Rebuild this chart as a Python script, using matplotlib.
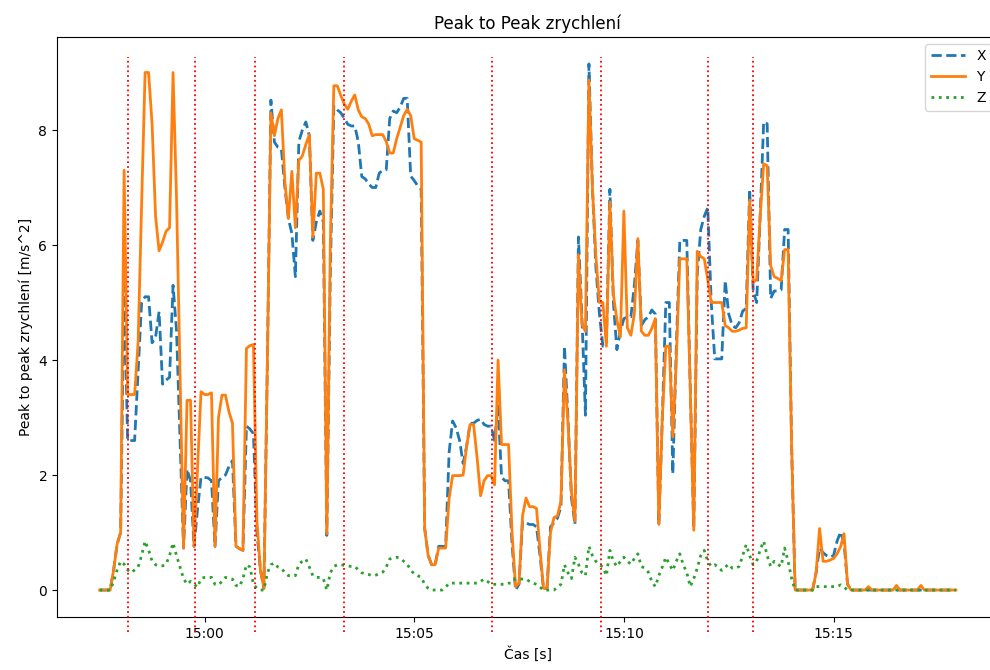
import matplotlib
matplotlib.use("Agg")
import matplotlib.pyplot as plt
import matplotlib.dates as mdates
import pandas as pd

# peak to peak values, one sample every 5 s from 14:57:30
x_vals = [
    0, 0, 0, 0, 0.35, 0.8, 1.0, 5.4, 2.6, 2.6,
    2.6, 3.8, 5.0, 5.1, 5.1, 4.3, 4.4, 4.84, 3.58, 3.65,
    3.7, 5.3, 4.5, 2.6, 0.73, 2.1, 1.9, 0.76, 1.4, 1.96,
    1.96, 1.95, 1.9, 0.76, 1.9, 1.96, 2.0, 2.15, 2.25, 0.76,
    0.72, 0.69, 2.85, 2.8, 2.72, 1.0, 0.35, 0.03, 4.0, 8.52,
    7.79, 7.7, 7.67, 7.0, 6.46, 6.2, 5.45, 7.8, 8.0, 8.14,
    7.9, 6.08, 6.4, 6.59, 6.4, 0.95, 5.5, 8.42, 8.35, 8.3,
    8.2, 8.1, 8.07, 8.07, 7.8, 7.19, 7.15, 7.06, 7.0, 7.0,
    7.25, 7.3, 7.31, 8.2, 8.33, 8.3, 8.4, 8.55, 8.55, 7.2,
    7.12, 7.03, 6.97, 1.07, 0.6, 0.44, 0.44, 0.76, 0.76, 0.76,
    2.4, 2.94, 2.82, 2.6, 2.2, 2.5, 2.9, 2.9, 2.95, 2.97,
    2.88, 2.85, 2.85, 2.6, 3.2, 1.96, 1.9, 1.9, 0.8, 0.0,
    0.1, 1.2, 1.17, 1.14, 1.14, 1.1, 0.6, 0.03, 0.03, 1.1,
    1.17, 1.25, 1.45, 4.24, 3.0, 1.6, 1.14, 6.14, 4.75, 3.04,
    9.15, 7.0, 5.6, 4.8, 4.24, 4.3, 6.97, 5.0, 4.18, 4.5,
    4.72, 4.75, 4.75, 5.3, 6.08, 4.6, 4.7, 4.75, 4.87, 4.8,
    1.14, 3.0, 5.0, 5.0, 2.02, 4.2, 6.08, 6.08, 6.08, 3.5,
    1.07, 5.5, 6.27, 6.5, 6.65, 5.0, 4.02, 4.02, 4.02, 5.38,
    4.8, 4.6, 4.56, 4.65, 4.85, 4.9, 6.97, 5.2, 5.0, 6.5,
    8.14, 8.11, 5.07, 5.2, 5.2, 5.22, 6.27, 6.27, 2.5, 0,
    0, 0, 0, 0, 0, 0.3, 0.73, 0.65, 0.6, 0.57,
    0.6, 0.85, 1.01, 0.82, 0.1, 0, 0, 0, 0, 0,
    0, 0, 0, 0, 0, 0, 0, 0, 0, 0,
    0, 0, 0, 0, 0, 0, 0, 0, 0, 0,
    0, 0, 0, 0, 0, 0,
]

y_vals = [
    0, 0, 0, 0, 0.35, 0.8, 1.0, 7.3, 3.4, 3.4,
    3.4, 4.3, 6.7, 9.0, 9.0, 8.1, 6.5, 5.9, 6.05, 6.24,
    6.3, 9.0, 6.8, 3.8, 0.73, 3.3, 3.3, 0.76, 2.1, 3.45,
    3.4, 3.4, 3.43, 0.76, 3.0, 3.39, 3.39, 3.1, 2.9, 0.76,
    0.72, 0.69, 4.2, 4.25, 4.27, 1.2, 0.35, 0.03, 4.0, 8.3,
    7.9, 8.2, 8.35, 7.1, 6.46, 7.28, 6.3, 7.47, 7.55, 7.75,
    7.92, 6.14, 7.25, 7.25, 6.97, 0.98, 6.0, 8.77, 8.77, 8.6,
    8.45, 8.36, 8.5, 8.61, 8.35, 8.23, 8.2, 8.1, 7.9, 7.92,
    7.92, 7.92, 7.8, 7.6, 7.6, 7.85, 8.05, 8.25, 8.36, 8.25,
    7.85, 7.82, 7.79, 1.07, 0.6, 0.44, 0.44, 0.73, 0.73, 0.73,
    1.6, 1.99, 1.99, 1.99, 2.0, 2.5, 2.88, 2.88, 2.3, 1.64,
    1.9, 1.99, 1.99, 1.83, 4.0, 2.53, 2.53, 2.53, 1.0, 0.06,
    0.12, 1.29, 1.6, 1.45, 1.45, 1.42, 0.7, 0.03, 0.03, 1.0,
    1.26, 1.29, 1.55, 3.83, 2.91, 1.7, 1.2, 5.83, 4.62, 4.5,
    8.87, 7.0, 5.8, 5.0, 5.0, 4.24, 6.75, 5.13, 4.7, 4.4,
    6.59, 4.56, 4.43, 4.8, 6.11, 4.5, 4.43, 4.43, 4.55, 4.72,
    1.14, 3.0, 4.24, 4.24, 2.66, 4.0, 5.76, 5.76, 5.76, 3.5,
    1.04, 5.89, 5.8, 5.76, 5.4, 5.0, 5.0, 5.0, 5.0, 4.6,
    4.56, 4.5, 4.5, 4.52, 4.55, 4.56, 6.78, 5.35, 5.4, 6.5,
    7.41, 7.38, 5.64, 5.45, 5.42, 5.38, 5.92, 5.92, 2.5, 0,
    0, 0, 0, 0, 0, 0.3, 1.07, 0.5, 0.5, 0.52,
    0.55, 0.63, 0.75, 0.98, 0.1, 0, 0, 0, 0, 0,
    0.06, 0, 0, 0, 0, 0, 0, 0, 0.08, 0,
    0, 0, 0, 0, 0, 0.08, 0, 0, 0, 0,
    0, 0, 0, 0, 0, 0,
]

z_vals = [
    0, 0, 0, 0, 0.15, 0.35, 0.5, 0.45, 0.35, 0.3,
    0.35, 0.4, 0.6, 0.85, 0.7, 0.5, 0.44, 0.42, 0.42, 0.45,
    0.6, 0.82, 0.6, 0.4, 0.2, 0.1, 0.15, 0.1, 0.05, 0.2,
    0.22, 0.22, 0.22, 0.1, 0.09, 0.15, 0.22, 0.2, 0.19, 0.08,
    0.06, 0.2, 0.44, 0.4, 0.1, 0.03, 0, 0, 0.3, 0.44,
    0.47, 0.4, 0.38, 0.3, 0.25, 0.25, 0.25, 0.45, 0.5, 0.54,
    0.4, 0.25, 0.22, 0.22, 0.2, 0.0, 0.3, 0.41, 0.44, 0.44,
    0.43, 0.42, 0.41, 0.41, 0.35, 0.3, 0.28, 0.27, 0.25, 0.26,
    0.28, 0.31, 0.4, 0.54, 0.56, 0.57, 0.55, 0.5, 0.45, 0.35,
    0.28, 0.25, 0.22, 0.1, 0.03, 0, 0, 0, 0, 0.05,
    0.12, 0.12, 0.12, 0.12, 0.12, 0.12, 0.12, 0.12, 0.12, 0.15,
    0.19, 0.15, 0.1, 0.1, 0.1, 0.1, 0.1, 0.12, 0.12, 0.2,
    0.2, 0.19, 0.19, 0.15, 0.12, 0.1, 0.05, 0, 0, 0,
    0, 0.05, 0.1, 0.44, 0.3, 0.2, 0.57, 0.45, 0.3, 0.25,
    0.76, 0.6, 0.5, 0.44, 0.4, 0.25, 0.69, 0.5, 0.41, 0.5,
    0.57, 0.5, 0.45, 0.55, 0.63, 0.41, 0.38, 0.31, 0.15, 0.06,
    0.25, 0.4, 0.57, 0.45, 0.34, 0.5, 0.63, 0.44, 0.3, 0.06,
    0.2, 0.38, 0.6, 0.69, 0.5, 0.41, 0.44, 0.4, 0.34, 0.4,
    0.45, 0.38, 0.38, 0.41, 0.6, 0.79, 0.6, 0.44, 0.5, 0.7,
    0.85, 0.6, 0.41, 0.5, 0.45, 0.41, 0.73, 0.5, 0.2, 0,
    0, 0, 0, 0, 0, 0.06, 0.06, 0.06, 0.06, 0.06,
    0.06, 0.06, 0.09, 0.05, 0, 0, 0, 0, 0, 0,
    0, 0, 0, 0, 0, 0, 0, 0, 0, 0,
    0, 0, 0, 0, 0, 0, 0, 0, 0, 0,
    0, 0, 0, 0, 0, 0,
]

# event markers (red dotted lines)
udalosti = ["14:58:10", "14:59:46", "15:01:12", "15:03:20",
            "15:06:52", "15:09:27", "15:12:00", "15:13:05"]

den = "2023-05-10 "
cas = pd.date_range(den + "14:57:30", periods=len(y_vals), freq="5s")
udalosti_cas = pd.to_datetime([den + u for u in udalosti])

fig, ax = plt.subplots(figsize=(9.9, 6.7), dpi=100)
# the right edge of the axes sits just past the picture edge, as in the original crop
fig.subplots_adjust(left=0.0576, right=1.0086, bottom=0.079, top=0.945)

ax.plot(cas, x_vals, linestyle="--", color="C0", linewidth=2, label="X")
ax.plot(cas, y_vals, linestyle="-", color="C1", linewidth=2, label="Y")
ax.plot(cas, z_vals, linestyle=":", color="C2", linewidth=2, label="Z")

ax.vlines(udalosti_cas, ymin=-0.73, ymax=9.27, colors="red",
          linestyles=":", linewidth=1.3, clip_on=False, zorder=3)

ax.set_xlim(pd.Timestamp(den + "14:56:29"), pd.Timestamp(den + "15:18:56"))
ax.set_ylim(-0.47, 9.62)
ax.xaxis.set_major_locator(mdates.MinuteLocator(byminute=[0, 5, 10, 15]))
ax.xaxis.set_major_formatter(mdates.DateFormatter("%H:%M"))
ax.set_yticks([0, 2, 4, 6, 8])

ax.set_title("Peak to Peak zrychlení")
ax.set_xlabel("Čas [s]")
ax.set_ylabel("Peak to peak zrychlení [m/s^2]")
ax.legend(loc="upper right", handlelength=2.5)

fig.savefig("out.png")
